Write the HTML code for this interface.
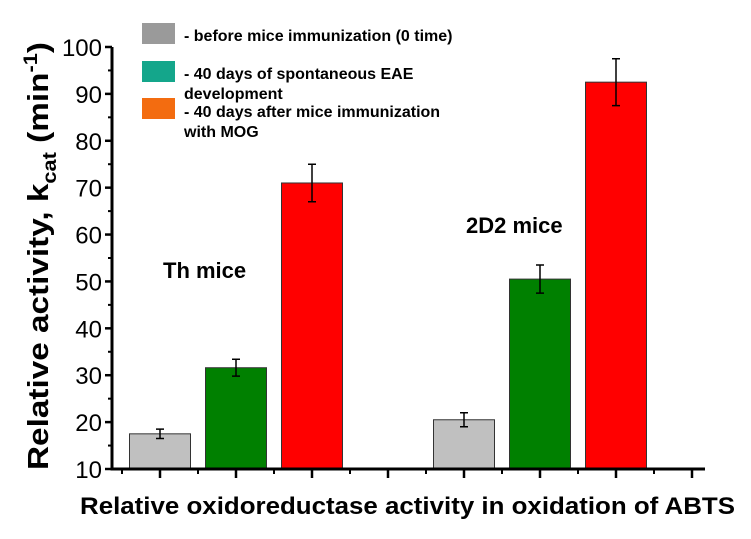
<!DOCTYPE html>
<html><head><meta charset="utf-8"><style>
body{margin:0;background:#fff}
svg{display:block;font-family:"Liberation Sans",sans-serif}
</style></head><body>
<svg id="c" width="751" height="539" viewBox="0 0 751 539">
<g id="bars"></g><g id="axes"></g>
<text x="163" y="278" font-size="22" font-weight="bold">Th mice</text>
<text x="466" y="233" font-size="22" font-weight="bold">2D2 mice</text>
<text x="80" y="514" font-size="24" font-weight="bold" textLength="655" lengthAdjust="spacingAndGlyphs">Relative oxidoreductase activity in oxidation of  ABTS</text>
<text transform="translate(48,470) rotate(-90)" font-size="29" font-weight="bold" textLength="428" lengthAdjust="spacingAndGlyphs">Relative activity, k<tspan font-size="19" dy="8">cat</tspan><tspan dy="-8"> (min</tspan><tspan font-size="19" dy="-11">-1</tspan><tspan dy="11">)</tspan></text>
<g font-size="16" font-weight="bold">
<rect x="142" y="23" width="33" height="21" fill="#9a9a9a"/>
<text x="184" y="41">- before mice immunization (0 time)</text>
<rect x="142" y="61" width="33" height="21" fill="#14a68b"/>
<text x="184" y="79">- 40 days of spontaneous EAE</text>
<text x="184" y="99">development</text>
<rect x="142" y="98" width="33" height="21" fill="#f36c10"/>
<text x="184" y="117">- 40 days after mice immunization</text>
<text x="184" y="137">with MOG</text>
</g>
</svg>
<script>
const groups=['Th','2D2'];
const beforeVals=[17.5,20.5];
const spontVals=[31.6,50.5];
const mogVals=[71,92.5];
const beforeErr=[1,1.5];
const spontErr=[1.8,3];
const mogErr=[4,5];
const yTicks=[10,20,30,40,50,60,70,80,90,100];
const NS='http://www.w3.org/2000/svg';
const x0=112,x1=705,yBase=469;
const y=v=>yBase-(v-10)*4.689;
const slot=i=>160+76*i;
function mk(t,a,p){const e=document.createElementNS(NS,t);for(const k in a)e.setAttribute(k,a[k]);p.appendChild(e);return e;}
const bars=document.getElementById('bars'),axes=document.getElementById('axes');
const series=[[beforeVals,beforeErr,'#c0c0c0','before'],[spontVals,spontErr,'#008000','spontaneous'],[mogVals,mogErr,'#ff0000','mog']];
groups.forEach((g,gi)=>{series.forEach((s,si)=>{
 const cx=slot(gi*4+si),v=s[0][gi],e=s[1][gi];
 const r=mk('rect',{x:cx-30.5,y:y(v),width:61,height:yBase-y(v),fill:s[2],stroke:'#333','stroke-width':1},bars);
 
 
 const eb=mk('path',{d:`M${cx} ${y(v+e)}V${y(v-e)}M${cx-4} ${y(v+e)}H${cx+4}M${cx-4} ${y(v-e)}H${cx+4}`,stroke:'#000','stroke-width':1.5,fill:'none'},bars);
 
 
});});
const ax=mk('path',{d:`M${x0} ${y(100)}V${yBase}H${x1}`,stroke:'#000','stroke-width':3,fill:'none'},axes);


yTicks.forEach(t=>{
 mk('line',{x1:x0-7,x2:x0,y1:y(t),y2:y(t),stroke:'#000','stroke-width':2.5},axes);
 if(t<100)mk('line',{x1:x0-4,x2:x0,y1:y(t+5),y2:y(t+5),stroke:'#000','stroke-width':2},axes);
 const tx=mk('text',{x:x0-10,y:y(t)+9,'font-size':24,'text-anchor':'end'},axes);
 tx.textContent=t;
 
 
});
for(let i=0;i<8;i++){
 mk('line',{x1:slot(i),x2:slot(i),y1:yBase,y2:yBase+9,stroke:'#000','stroke-width':2.5},axes);
 mk('line',{x1:slot(i)-38,x2:slot(i)-38,y1:yBase,y2:yBase+5,stroke:'#000','stroke-width':2},axes);
}
</script>
</body></html>
